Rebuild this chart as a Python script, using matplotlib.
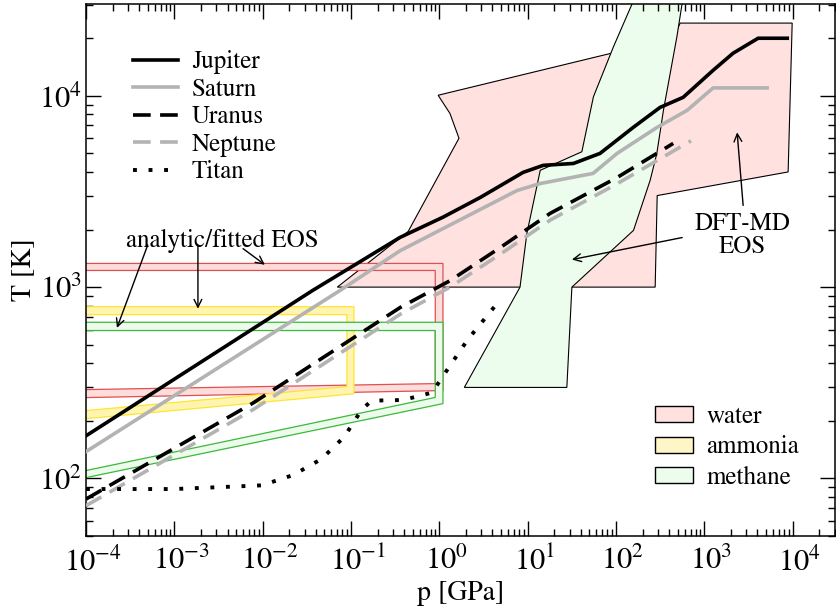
import numpy as np
import matplotlib
matplotlib.use("Agg")
import matplotlib.pyplot as plt
from matplotlib.path import Path
from matplotlib.patches import PathPatch, Polygon, Patch
from matplotlib.transforms import ScaledTranslation

plt.rcParams['font.family'] = 'STIXGeneral'
plt.rcParams['mathtext.fontset'] = 'stix'
plt.rcParams['axes.unicode_minus'] = False

# planetary adiabats, p in GPa, T in K
jupiter_p = [1e-4, 0.037, 0.36, 1.1, 2.9, 8.9, 15, 33, 66, 157, 316, 577, 1260, 2120, 4070, 8700]
jupiter_T = [167, 962, 1820, 2320, 2940, 3980, 4330, 4430, 5000, 6840, 8700, 9820, 13600, 16700, 20000, 20000]

saturn_p = [1e-4, 0.075, 0.36, 7.6, 13.9, 55, 103, 292, 640, 1260, 5150]
saturn_T = [138, 960, 1550, 3200, 3480, 3930, 5000, 6840, 8400, 11000, 11000]

uranus_p = [1e-4, 0.0078, 0.36, 1.32, 4.9, 18, 103, 445]
uranus_T = [78, 248, 782, 1080, 1610, 2430, 3740, 5640]

neptune_p = [1e-4, 0.0078, 0.36, 1.32, 4.9, 18, 103, 708]
neptune_T = [72, 229, 721, 1000, 1486, 2240, 3470, 5820]

titan_p = [1e-4, 1e-3, 0.0098, 0.022, 0.046, 0.084, 0.134, 0.173, 0.39, 0.83, 1.05, 2.1, 4.6]
titan_T = [88, 88, 92, 104, 126, 165, 231, 255, 257, 281, 332, 532, 830]

# DFT-MD coverage
water_dft_p = [0.070, 0.444, 1.67, 1.32, 0.97, 445, 533, 9890, 8900, 293, 278]
water_dft_T = [1000, 1954, 6000, 8090, 10070, 20000, 24000, 24000, 4000, 3010, 1000]

methane_dft_p = [1.92, 27.8, 31.7, 158, 244, 290, 345, 490, 593, 178, 93.8, 55.6, 41.1, 13.9, 9.8, 8.2]
methane_dft_T = [299, 299, 1000, 1980, 3620, 4990, 8410, 20400, 35700, 35700, 18070, 9890, 5100, 4080, 1905, 1000]

# analytic/fitted EOS ranges (outer and inner outline)
water_fit_outer_p = [1e-5, 1.1, 1.1, 1e-5]
water_fit_outer_T = [1330, 1330, 288, 259]
water_fit_inner_p = [1e-5, 0.9, 0.9, 1e-5]
water_fit_inner_T = [1222, 1222, 313, 286]

ammonia_fit_outer_p = [1e-5, 0.108, 0.108, 1e-5]
ammonia_fit_outer_T = [790, 790, 277, 186]
ammonia_fit_inner_p = [1e-5, 0.09, 0.09, 1e-5]
ammonia_fit_inner_T = [718, 718, 302, 205]

methane_fit_outer_p = [1e-5, 1.1, 1.1, 1e-5]
methane_fit_outer_T = [655, 655, 246, 81]
methane_fit_inner_p = [1e-5, 0.9, 0.9, 1e-5]
methane_fit_inner_T = [593, 593, 265, 88]

water_fill = '#ffe1df'
ammonia_fill = '#fff6c8'
methane_fill = '#edfded'


def ring(ax, op, oT, ip, iT, fc, ec):
    outer = list(zip(op, oT))
    inner = list(zip(ip, iT))[::-1]
    verts = outer + [outer[0]] + inner + [inner[0]]
    codes = ([Path.MOVETO] + [Path.LINETO] * (len(outer) - 1) + [Path.CLOSEPOLY]) * 2
    patch = PathPatch(Path(verts, codes), facecolor=fc, edgecolor=ec, lw=0.9, zorder=2)
    ax.add_patch(patch)


fig = plt.figure(figsize=(8.36, 6.06), dpi=100)
ax = fig.add_axes([86 / 836, 1 - 536 / 606, 749 / 836, 532 / 606])
ax.set_xscale('log')
ax.set_yscale('log')

ax.add_patch(Polygon(list(zip(water_dft_p, water_dft_T)), closed=True,
                     fc=water_fill, ec='k', lw=0.8, zorder=1))
ax.add_patch(Polygon(list(zip(methane_dft_p, methane_dft_T)), closed=True,
                     fc=methane_fill, ec='k', lw=0.8, zorder=1.1))

ring(ax, water_fit_outer_p, water_fit_outer_T, water_fit_inner_p, water_fit_inner_T,
     '#fddcdc', '#e05050')
ring(ax, ammonia_fit_outer_p, ammonia_fit_outer_T, ammonia_fit_inner_p, ammonia_fit_inner_T,
     '#fff5b0', '#ffe433')
ring(ax, methane_fit_outer_p, methane_fit_outer_T, methane_fit_inner_p, methane_fit_inner_T,
     '#ecfbec', '#3cb83c')

lw = 2.6
gray = '#b3b3b3'
l1, = ax.plot(jupiter_p, jupiter_T, color='k', lw=lw, zorder=4, label='Jupiter')
l2, = ax.plot(saturn_p, saturn_T, color=gray, lw=lw, zorder=3, label='Saturn')
l4, = ax.plot(neptune_p, neptune_T, color=gray, lw=lw, ls=(0, (4.9, 2.6)), zorder=3, label='Neptune')
l3, = ax.plot(uranus_p, uranus_T, color='k', lw=lw, ls=(0, (4.9, 2.6)), zorder=4, label='Uranus')
l5, = ax.plot(titan_p, titan_T, color='k', lw=2.8, ls=(0, (1, 3)), zorder=4, label='Titan')

leg1 = ax.legend(handles=[l1, l2, l3, l4, l5], loc='upper left', bbox_to_anchor=(0.063, 0.913),
                 frameon=False, fontsize=18, handlelength=1.8, handletextpad=0.55,
                 labelspacing=0.14, borderpad=0, borderaxespad=0)
ax.add_artist(leg1)

patches = [Patch(fc=water_fill, ec='k', lw=1, label='water'),
           Patch(fc=ammonia_fill, ec='k', lw=1, label='ammonia'),
           Patch(fc=methane_fill, ec='k', lw=1, label='methane')]
ax.legend(handles=patches, loc='upper left', bbox_to_anchor=(0.760, 0.247),
          frameon=False, fontsize=18, handlelength=1.5, handleheight=0.6,
          handletextpad=0.55, labelspacing=0.27, borderpad=0, borderaxespad=0)

ax.text(3.5e-3, 1750, 'analytic/fitted EOS', fontsize=18, ha='center', va='center')
ax.text(2700, 1860, 'DFT-MD\nEOS', fontsize=18, ha='center', va='center', linespacing=0.95)

arrow = dict(arrowstyle='->', lw=1.0, color='k', mutation_scale=14, shrinkA=0, shrinkB=0)
ax.annotate('', xy=(2.24e-4, 612), xytext=(5.0e-4, 1660), arrowprops=arrow)
ax.annotate('', xy=(1.85e-3, 771), xytext=(1.85e-3, 1660), arrowprops=arrow)
ax.annotate('', xy=(0.0106, 1309), xytext=(6.0e-3, 1589), arrowprops=arrow)
ax.annotate('', xy=(31.7, 1393), xytext=(562, 1816), arrowprops=arrow)
ax.annotate('', xy=(2355, 6442), xytext=(2754, 2673), arrowprops=arrow)

ax.set_xlabel('p [GPa]', fontsize=20, labelpad=2)
ax.set_ylabel('T [K]', fontsize=20, labelpad=2)

ax.set_xticks([10.0 ** k for k in range(-4, 5)])
ax.set_yticks([1e2, 1e3, 1e4])
ax.set_xlim(1e-4, 10 ** 4.48)
ax.set_ylim(50, 10 ** 4.48)

ax.tick_params(which='both', direction='in', top=True, right=True, width=1.0)
ax.tick_params(which='major', length=11, labelsize=22, pad=8)
ax.tick_params(axis='y', which='major', pad=3)
ax.tick_params(which='minor', length=5)
ax.xaxis.set_minor_locator(matplotlib.ticker.LogLocator(base=10, subs=np.arange(2, 10), numticks=20))
ax.yaxis.set_minor_locator(matplotlib.ticker.LogLocator(base=10, subs=np.arange(2, 10), numticks=20))
for s in ax.spines.values():
    s.set_linewidth(1.1)

# keep the mantissa "10" centred under each x tick
shift = ScaledTranslation(5 / 72, 0, fig.dpi_scale_trans)
for lab in ax.get_xticklabels():
    lab.set_transform(lab.get_transform() + shift)

fig.savefig('out.png', dpi=100)
